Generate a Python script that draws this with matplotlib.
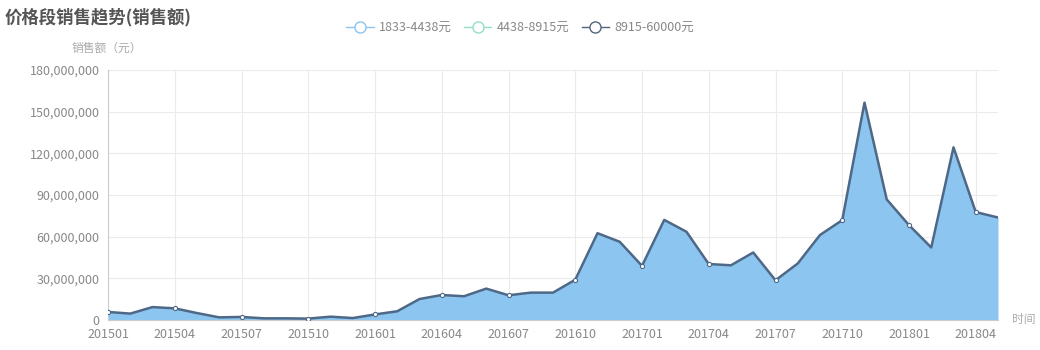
import numpy as np
import matplotlib.pyplot as plt
from matplotlib.lines import Line2D
from matplotlib.ticker import FuncFormatter, MultipleLocator

plt.rcParams['font.family'] = ['Noto Sans CJK SC', 'DejaVu Sans']

months = ['201501', '201502', '201503', '201504', '201505', '201506', '201507', '201508',
          '201509', '201510', '201511', '201512', '201601', '201602', '201603', '201604',
          '201605', '201606', '201607', '201608', '201609', '201610', '201611', '201612',
          '201701', '201702', '201703', '201704', '201705', '201706', '201707', '201708',
          '201709', '201710', '201711', '201712', '201801', '201802', '201803', '201804',
          '201805']

series_names = ['1833-4438元', '4438-8915元', '8915-60000元']
series_colors = ['#8cc4ee', '#93dfc6', '#55647e']

# sales (yuan) per price band; the lower bands are empty in this view
sales_low = [0] * len(months)
sales_mid = [0] * len(months)
sales_high = [5.8e6, 4.6e6, 9.3e6, 8.4e6, 5.0e6, 1.9e6, 2.2e6, 1.2e6,
              1.2e6, 1.0e6, 2.4e6, 1.4e6, 4.0e6, 6.3e6, 15.1e6, 18.0e6,
              17.1e6, 22.6e6, 17.8e6, 19.7e6, 19.7e6, 29.0e6, 62.5e6, 56.3e6,
              39.0e6, 72.1e6, 63.5e6, 40.3e6, 39.4e6, 48.6e6, 28.6e6, 40.7e6,
              61.2e6, 71.9e6, 156.5e6, 86.8e6, 68.3e6, 52.2e6, 124.3e6, 77.7e6,
              73.8e6]

x = np.arange(len(months))

fig = plt.figure(figsize=(10.4, 3.5), dpi=100)
ax = fig.add_axes([108 / 1040, 30 / 350, 890 / 1040, 250 / 350])

# stacked areas
base = np.zeros(len(months))
for vals, col in zip([sales_low, sales_mid], series_colors[:2]):
    top = base + np.array(vals)
    ax.plot(x, top, color=col, lw=2)
    base = top
top = base + np.array(sales_high)
ax.fill_between(x, base, top, color='#8cc6f0', lw=0, zorder=2)
ax.plot(x, top, color='#4e6887', lw=1.8, zorder=3)
ax.plot(x[::3], top[::3], 'o', ms=3, mfc='white', mec='#4e6887', mew=0.8, zorder=4)

ax.set_xlim(0, len(months) - 1)
ax.set_ylim(0, 180e6)
ax.yaxis.set_major_locator(MultipleLocator(30e6))
ax.yaxis.set_major_formatter(FuncFormatter(lambda v, p: f'{int(v):,}'))
ax.set_xticks(x[::3])
ax.set_xticklabels(months[::3])

ax.grid(True, color='#ebebeb', lw=0.8, zorder=0)
ax.set_axisbelow(True)
for s in ['top', 'right']:
    ax.spines[s].set_visible(False)
ax.spines['left'].set_color('#cccccc')
ax.spines['bottom'].set_color('#cccccc')
ax.tick_params(length=0, colors='#888888', labelsize=9)
ax.tick_params(axis='x', pad=6)
ax.tick_params(axis='y', pad=6)

fig.text(5 / 1040, 1 - 17 / 350, '价格段销售趋势(销售额)', fontsize=12.5, fontweight='bold',
         color='#555555', va='center', ha='left')
fig.text(72 / 1040, 1 - 48 / 350, '销售额（元）', fontsize=8.5, color='#aaaaaa', va='center', ha='left')
fig.text(1012 / 1040, 1 - 320 / 350, '时间', fontsize=8.5, color='#aaaaaa', va='center', ha='left')

handles = [Line2D([0], [0], color=c, lw=1, marker='o', ms=8, mfc='white', mec=c, mew=1)
           for c in series_colors]
fig.legend(handles, series_names, loc='center', bbox_to_anchor=(520 / 1040, 1 - 28 / 350),
           ncol=3, frameon=False, fontsize=9, labelcolor='#888888', handlelength=2.2,
           handletextpad=0.4, columnspacing=1.0)

fig.savefig('out.png', dpi=100)
